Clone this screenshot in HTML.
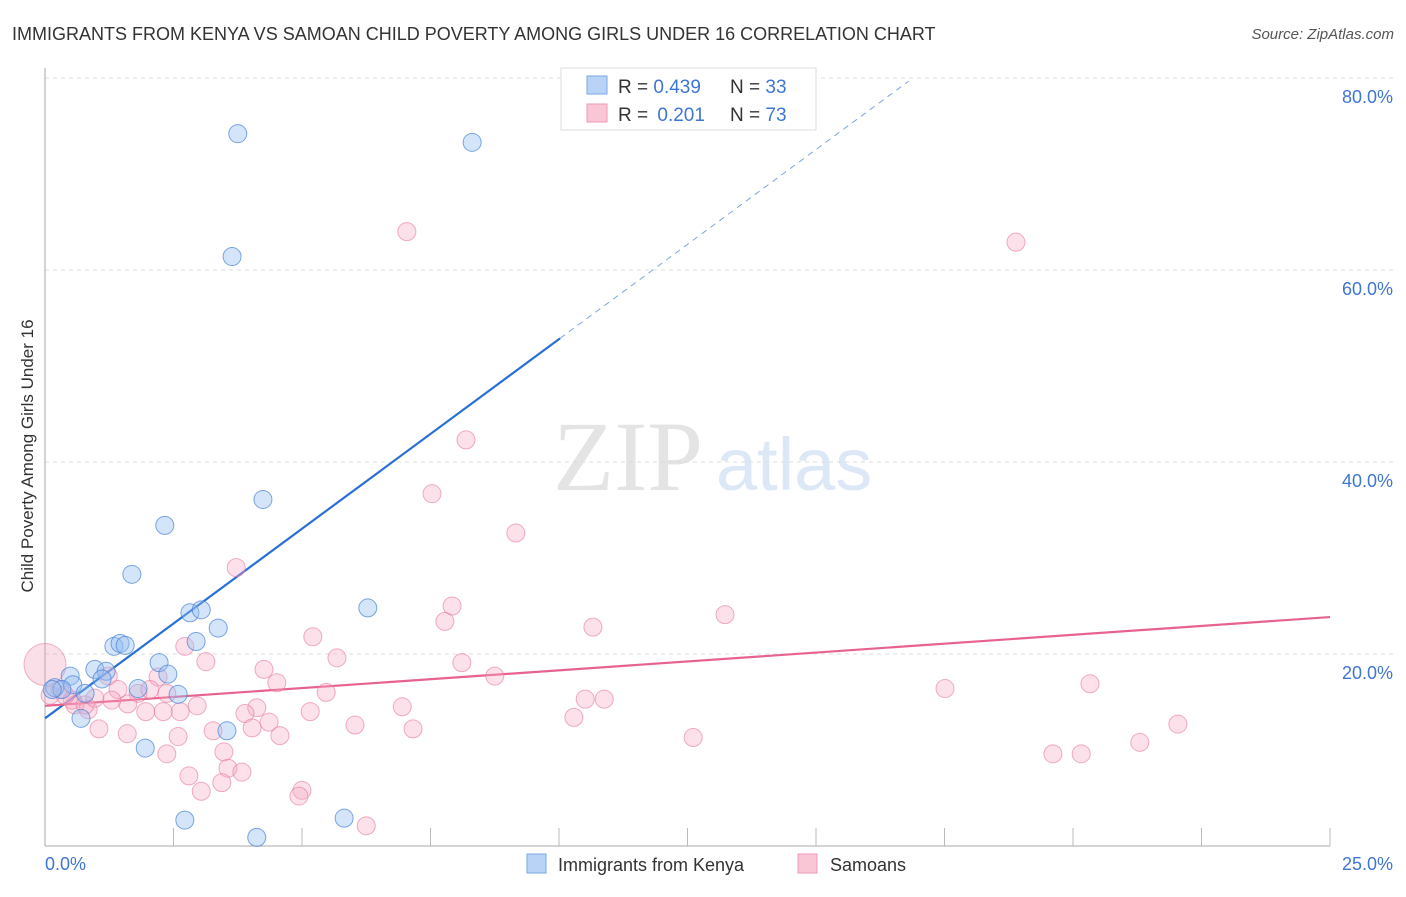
<!DOCTYPE html>
<html><head><meta charset="utf-8"><style>
body{margin:0;background:#fff;width:1406px;height:892px;overflow:hidden;font-family:"Liberation Sans",sans-serif}
</style></head><body>
<svg id="chart" width="1406" height="892" xmlns="http://www.w3.org/2000/svg" font-family="Liberation Sans, sans-serif">
<text x="12" y="40" font-size="18" fill="#333">IMMIGRANTS FROM KENYA VS SAMOAN CHILD POVERTY AMONG GIRLS UNDER 16 CORRELATION CHART</text>
<text x="1394" y="39" font-size="15" fill="#555" font-style="italic" text-anchor="end">Source: ZipAtlas.com</text>
<text transform="translate(33,456) rotate(-90)" font-size="17" fill="#333" text-anchor="middle">Child Poverty Among Girls Under 16</text>
<g>
<text x="553" y="490" font-family="Liberation Serif, serif" font-size="100" fill="#e4e4e4">ZIP</text>
<text x="716" y="490" font-size="74" fill="#dde8f6">atlas</text>
</g>
<g id="grid"></g><g id="axes"></g><g id="lines"></g><g id="pts"></g>
<g>
<rect x="561" y="68" width="255" height="62" fill="#fff" stroke="#ddd"/>
<rect x="587" y="76" width="20" height="18" fill="#b8d3f5" stroke="#7aa9e8"/>
<rect x="587" y="104" width="20" height="18" fill="#f9c6d6" stroke="#ee99b4"/>
<text x="618" y="93" font-size="19" fill="#333">R = <tspan fill="#3f76d4">0.439</tspan><tspan x="730">N = </tspan><tspan fill="#3f76d4">33</tspan></text>
<text x="618" y="121" font-size="19" fill="#333">R = <tspan fill="#3f76d4" dx="4">0.201</tspan><tspan x="730">N = </tspan><tspan fill="#3f76d4">73</tspan></text>
</g>
<g>
<rect x="527" y="854" width="19" height="19" fill="#b8d3f5" stroke="#7aa9e8"/>
<text x="558" y="871" font-size="18" fill="#333">Immigrants from Kenya</text>
<rect x="798" y="854" width="19" height="19" fill="#f9c6d6" stroke="#ee99b4"/>
<text x="830" y="871" font-size="18" fill="#333">Samoans</text>
</g>
</svg>
<script>
const yTicks=[20,40,60,80];
const xTickLabels=["0.0%","25.0%"];
const blueX=[3.75,8.31,3.64,4.24,2.33,1.69,2.82,3.04,3.37,2.94,1.34,1.46,1.56,2.22,2.39,0.97,1.19,1.11,0.49,0.54,0.19,0.33,0.78,1.81,2.59,0.70,1.95,3.54,6.28,2.72,4.12,5.82,0.14];
const blueY=[74.2,73.3,61.4,36.1,33.4,28.3,24.3,24.6,22.7,21.3,20.8,21.1,20.9,19.1,17.9,18.4,18.2,17.4,17.7,16.8,16.5,16.3,15.9,16.4,15.8,13.3,10.2,12.0,24.8,2.7,0.9,2.9,16.3];
const pinkX=[7.04,18.89,8.19,7.53,9.16,3.72,7.92,7.78,13.23,10.66,5.21,2.72,5.68,3.13,8.11,4.26,8.75,2.20,1.23,4.51,17.51,20.33,5.47,1.42,1.81,2.37,10.51,10.88,2.96,4.12,5.16,6.95,10.29,3.89,2.63,2.30,1.96,0.84,0.58,1.61,4.36,6.03,3.27,4.03,7.16,4.57,1.05,1.60,2.59,12.61,22.04,21.30,3.48,19.61,20.16,2.37,3.56,3.83,2.80,3.44,3.04,5.00,4.94,6.25,0.0,0.29,0.53,0.10,0.39,1.30,2.04,0.78,0.97];
const pinkY=[64.0,62.9,42.3,36.7,32.6,29.0,25.0,23.4,24.1,22.8,21.8,20.8,19.6,19.2,19.1,18.4,17.7,17.6,17.7,17.0,16.4,16.9,16.0,16.3,15.9,15.9,15.3,15.3,14.6,14.4,14.0,14.5,13.4,13.8,14.0,14.0,14.0,14.2,14.7,14.8,12.9,12.6,12.0,12.3,12.2,11.5,12.2,11.7,11.4,11.3,12.7,10.8,9.8,9.6,9.6,9.6,8.1,7.7,7.3,6.6,5.7,5.8,5.2,2.1,18.9,16.3,15.2,15.7,15.7,15.2,16.3,14.7,15.4];
const blueFit=[13.3,3.95];
const pinkFit=[14.6,0.37];
const NS="http://www.w3.org/2000/svg";
const X=v=>45+v*51.4, Y=v=>846-v*9.6;
function mk(p,t,a){const e=document.createElementNS(NS,t);for(const k in a)e.setAttribute(k,a[k]);document.getElementById(p).appendChild(e);return e;}
yTicks.forEach(t=>{
 const l=mk('grid','line',{x1:45,x2:1393,y1:Y(t),y2:Y(t),stroke:'#ddd','stroke-dasharray':'4,4'});
 
 
 const tx=mk('grid','text',{x:1393,y:Y(t)+25,'font-size':18,fill:'#3f76d4','text-anchor':'end'});
 tx.textContent=t.toFixed(1)+'%';
 
 
});
mk('axes','line',{x1:45,x2:45,y1:68,y2:846,stroke:'#aaa'});
const xa=mk('axes','line',{x1:45,x2:1330,y1:846,y2:846,stroke:'#aaa'});


for(let k=1;k<=10;k++){const t=mk('axes','line',{x1:X(k*2.5),x2:X(k*2.5),y1:828,y2:846,stroke:'#bbb'});
 
 }
const l0=mk('axes','text',{x:45,y:870,'font-size':18,fill:'#3f76d4'});l0.textContent=xTickLabels[0];


const l1=mk('axes','text',{x:1393,y:870,'font-size':18,fill:'#3f76d4','text-anchor':'end'});l1.textContent=xTickLabels[1];


// points
const big=mk('pts','circle',{cx:X(pinkX[64]),cy:Y(pinkY[64]),r:21,fill:'rgba(240,150,180,0.3)',stroke:'rgba(230,110,150,0.5)'});


pinkX.forEach((x,i)=>{if(i===64)return;const c=mk('pts','circle',{cx:X(x),cy:Y(pinkY[i]),r:9,fill:'rgba(245,170,195,0.35)',stroke:'rgba(230,120,160,0.6)'});
 
 });
blueX.forEach((x,i)=>{const c=mk('pts','circle',{cx:X(x),cy:Y(blueY[i]),r:9,fill:'rgba(150,190,240,0.4)',stroke:'rgba(70,130,215,0.7)'});
 
 });
// trend lines
const bEnd=10.02, bMax=16.8;
const b1=mk('lines','line',{x1:X(0),y1:Y(blueFit[0]),x2:X(bEnd),y2:Y(blueFit[0]+blueFit[1]*bEnd),stroke:'#2a6fd6','stroke-width':2.2});


const b2=mk('lines','line',{x1:X(bEnd),y1:Y(blueFit[0]+blueFit[1]*bEnd),x2:X(bMax),y2:Y(blueFit[0]+blueFit[1]*bMax),stroke:'#7aa6e0','stroke-width':1,'stroke-dasharray':'6,5'});


const p1=mk('lines','line',{x1:X(0),y1:Y(pinkFit[0]),x2:X(25),y2:Y(pinkFit[0]+pinkFit[1]*25),stroke:'#e8628e','stroke-width':2.2});


</script>
</body></html>
